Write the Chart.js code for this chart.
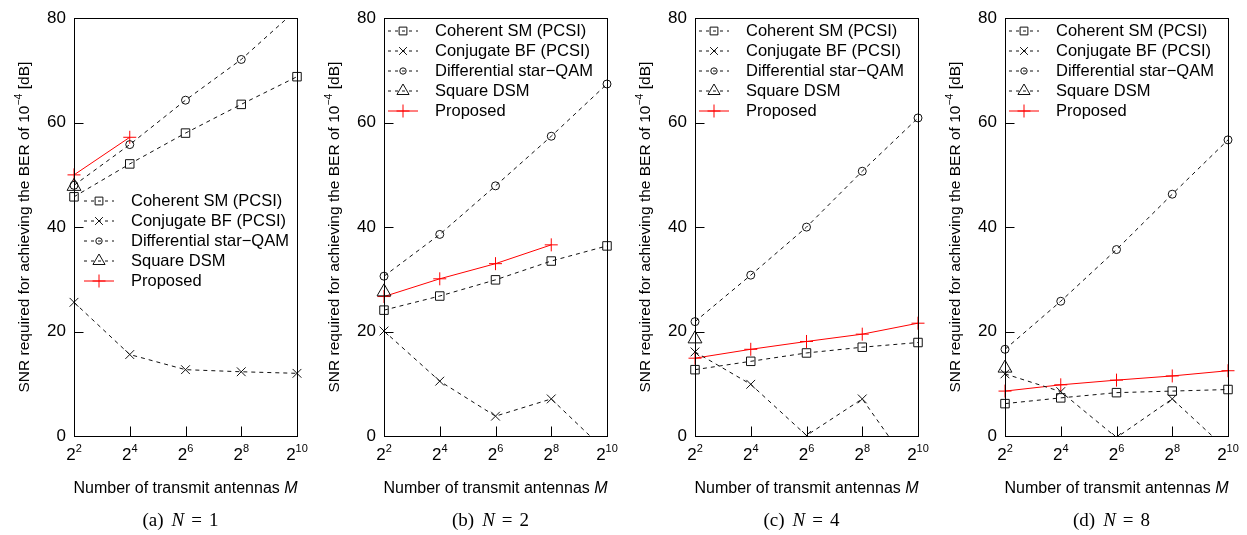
<!DOCTYPE html>
<html>
<head>
<meta charset="utf-8">
<script src="https://cdn.jsdelivr.net/npm/chart.js@4.4.1/dist/chart.umd.min.js"></script>
<style>
  body { margin: 0; background: #fff; }
  #wrap { position: relative; width: 1247px; height: 535px; overflow: hidden; }
  #wrap canvas { position: absolute; top: 0; }
</style>
</head>
<body>
<div id="wrap">
  <canvas id="c0" width="312" height="535" style="left:0px"></canvas>
  <canvas id="c1" width="312" height="535" style="left:310px"></canvas>
  <canvas id="c2" width="312" height="535" style="left:621px"></canvas>
  <canvas id="c3" width="312" height="535" style="left:931px"></canvas>
</div>
<script>
// x axis: log2 of the number of transmit antennas M
var exponents = [2, 4, 6, 8, 10];
var yTicks = [0, 20, 40, 60, 80];
var receiveAntennas = [1, 2, 4, 8];
var panelTags = ['(a)', '(b)', '(c)', '(d)'];
var seriesNames = ['Coherent SM (PCSI)', 'Conjugate BF (PCSI)', 'Differential star\u2212QAM', 'Square DSM', 'Proposed'];

// SNR [dB] needed for BER 1e-4, one row per N (1, 2, 4, 8)
var coherentSM = [
  [45.8, 52.1, 58.0, 63.5, 68.8],
  [24.1, 26.8, 29.9, 33.5, 36.4],
  [12.7, 14.3, 15.9, 17.0, 17.9],
  [6.2, 7.3, 8.3, 8.6, 8.9]
];
var conjugateBF = [
  [25.6, 15.6, 12.7, 12.3, 12.0],
  [20.1, 10.5, 3.8, 7.1, -3.1],
  [16.1, 9.9, 0.1, 7.1, -8.0],
  [11.9, 8.5, -0.3, 7.1, -2.8]
];
var diffStarQAM = [
  [48.0, 55.8, 64.3, 72.1, 81.7],
  [30.6, 38.6, 47.9, 57.4, 67.4],
  [21.9, 30.8, 40.0, 50.7, 60.9],
  [16.6, 25.8, 35.7, 46.3, 56.7]
];
var squareDSM = [
  [47.8, null, null, null, null],
  [27.6, null, null, null, null],
  [18.6, null, null, null, null],
  [13.0, null, null, null, null]
];
var proposed = [
  [50.0, 57.2, null, null, null],
  [26.7, 30.1, 33.0, 36.6, null],
  [14.9, 16.6, 18.1, 19.5, 21.6],
  [8.6, 9.8, 10.7, 11.5, 12.5]
];

var seriesStyle = [
  { color: '#111', dash: [4, 4], point: 'rect', r: 6, lr: 5.5 },
  { color: '#111', dash: [4, 4], point: 'crossRot', r: 6.2, lr: 5.5 },
  { color: '#111', dash: [4, 4], point: 'circle', r: 4, lr: 3.2 },
  { color: '#111', dash: [4, 4], point: 'triangle', r: 8, lr: 7 },
  { color: '#ff0000', dash: [], point: 'cross', r: 6.5, lr: 6.5 }
];

// legend anchor: offset from the left frame and y of the first row
var legendAt = [
  { dx: 10, y: 201 },
  { dx: 4, y: 31 },
  { dx: 4, y: 31 },
  { dx: 4, y: 31 }
];

var SANS = '"Liberation Sans", Arial, sans-serif';
var SERIF = '"Liberation Serif", "Times New Roman", serif';

function drawMarker(ctx, style, r, x, y) {
  ctx.fillStyle = 'rgba(0,0,0,0)';
  Chart.helpers.drawPoint(ctx, { pointStyle: style, radius: r, rotation: 0, borderWidth: 1 }, x, y);
}

// pieces of text drawn one after another: [text, font, dy, gapAfter]
function runWidth(ctx, parts) {
  var w = 0;
  parts.forEach(function (p) { ctx.font = p[1]; w += ctx.measureText(p[0]).width + (p[3] || 0); });
  return w;
}
function drawRun(ctx, parts, x, y) {
  parts.forEach(function (p) {
    ctx.font = p[1];
    ctx.fillText(p[0], x, y + (p[2] || 0));
    x += ctx.measureText(p[0]).width + (p[3] || 0);
  });
}

var decor = {
  id: 'decor',
  afterDraw: function (chart) {
    var i = chart.options.plugins.decor.panel;
    var ctx = chart.ctx, a = chart.chartArea;
    var xs = chart.scales.x, ys = chart.scales.y;
    var L = Math.round(a.left) + 0.5, R = Math.round(a.right) + 0.5;
    var T = Math.round(a.top) + 0.5, B = Math.round(a.bottom) + 0.5;
    ctx.save();

    // frame and inward ticks
    ctx.strokeStyle = '#000';
    ctx.lineWidth = 1;
    ctx.setLineDash([]);
    ctx.strokeRect(L, T, R - L, B - T);
    ctx.beginPath();
    yTicks.forEach(function (v) {
      var y = Math.round(ys.getPixelForValue(v)) + 0.5;
      ctx.moveTo(L, y); ctx.lineTo(L + 9, y);
    });
    exponents.forEach(function (e) {
      var x = Math.round(xs.getPixelForValue(e)) + 0.5;
      ctx.moveTo(x, B); ctx.lineTo(x, B - 10);
    });
    ctx.stroke();

    ctx.fillStyle = '#000';
    ctx.textBaseline = 'alphabetic';
    ctx.textAlign = 'left';

    // x tick labels 2^k
    exponents.forEach(function (e) {
      var parts = [['2', '17px ' + SANS, 0], [String(e), '11px ' + SANS, -8]];
      var w = runWidth(ctx, parts);
      drawRun(ctx, parts, xs.getPixelForValue(e) - w / 2, 460);
    });

    // x axis title
    var cx = (a.left + a.right) / 2;
    var xt = [['Number of transmit antennas ', '16px ' + SANS, 0], ['M', 'italic 16px ' + SANS, 0]];
    drawRun(ctx, xt, cx - runWidth(ctx, xt) / 2, 493);

    // y axis title, rotated
    var yt = [
      ['SNR required for achieving the BER of 10', '15.5px ' + SANS, 0],
      ['\u22124', '10.5px ' + SANS, -7],
      [' [dB]', '15.5px ' + SANS, 0]
    ];
    ctx.save();
    ctx.translate(29, (a.top + a.bottom) / 2);
    ctx.rotate(-Math.PI / 2);
    drawRun(ctx, yt, -runWidth(ctx, yt) / 2, 0);
    ctx.restore();

    // sub-caption
    var cap = [
      [panelTags[i], '19px ' + SERIF, 0, 8],
      ['N', 'italic 19px ' + SERIF, 0, 7],
      ['=', '19px ' + SERIF, 0, 7],
      [String(receiveAntennas[i]), '19px ' + SERIF, 0]
    ];
    drawRun(ctx, cap, cx - 5 - runWidth(ctx, cap) / 2, 526);

    // legend
    var lg = legendAt[i];
    seriesNames.forEach(function (name, s) {
      var st = seriesStyle[s];
      var y = lg.y + s * 20;
      var x0 = a.left + lg.dx, x1 = x0 + 30;
      ctx.strokeStyle = st.color;
      ctx.lineWidth = 1;
      ctx.setLineDash(st.dash.length ? [3, 4] : []);
      ctx.beginPath(); ctx.moveTo(x0, y); ctx.lineTo(x1, y); ctx.stroke();
      ctx.setLineDash([]);
      drawMarker(ctx, st.point, st.lr, (x0 + x1) / 2, y);
      ctx.fillStyle = '#000';
      ctx.font = '16.5px ' + SANS;
      ctx.textBaseline = 'middle';
      ctx.fillText(name, x0 + 47, y + 0.5);
    });
    ctx.restore();
  }
};

function buildChart(i) {
  var rows = [coherentSM[i], conjugateBF[i], diffStarQAM[i], squareDSM[i], proposed[i]];
  var datasets = rows.map(function (row, s) {
    var st = seriesStyle[s];
    return {
      label: seriesNames[s],
      data: exponents.map(function (e, k) { return { x: e, y: row[k] }; }),
      borderColor: st.color,
      borderWidth: 1,
      borderDash: st.dash,
      pointStyle: st.point,
      pointRadius: st.r,
      pointBorderColor: st.color,
      pointBackgroundColor: 'rgba(0,0,0,0)',
      pointBorderWidth: 1,
      fill: false,
      tension: 0,
      clip: { left: false, right: false, top: 0, bottom: 0 }
    };
  });

  new Chart(document.getElementById('c' + i), {
    type: 'line',
    data: { datasets: datasets },
    plugins: [decor],
    options: {
      responsive: false,
      animation: false,
      events: [],
      layout: { padding: { top: 12, right: 15, left: 0, bottom: 0 } },
      plugins: {
        legend: { display: false },
        tooltip: { enabled: false },
        decor: { panel: i }
      },
      scales: {
        x: {
          type: 'linear',
          min: 2,
          max: 10,
          ticks: { display: false, stepSize: 2 },
          grid: { display: false, drawTicks: false },
          border: { display: false },
          afterFit: function (scale) { scale.height = 99; }
        },
        y: {
          min: 0,
          max: 80,
          ticks: {
            stepSize: 20,
            padding: 8,
            color: '#000',
            font: { family: SANS, size: 17 }
          },
          grid: { display: false, drawTicks: false },
          border: { display: false },
          afterFit: function (scale) { scale.width = 74; }
        }
      }
    }
  });
}

for (var i = 0; i < 4; i++) buildChart(i);
</script>
</body>
</html>
